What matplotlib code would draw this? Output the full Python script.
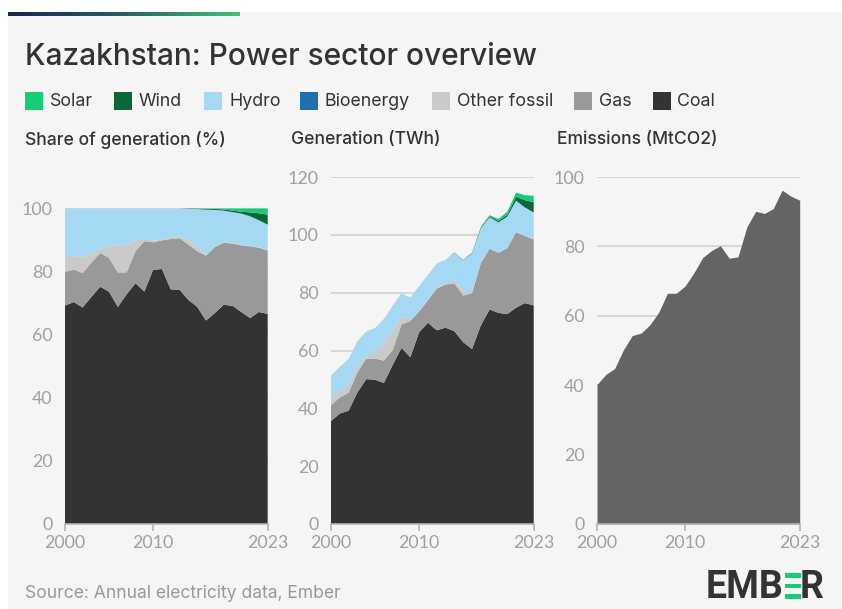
import numpy as np
import matplotlib
matplotlib.use("Agg")
import matplotlib.pyplot as plt
from matplotlib.patches import Rectangle
from matplotlib.colors import LinearSegmentedColormap

# ---------------- data ----------------
years = list(range(2000, 2024))

coal = [35.6, 38.2, 39.2, 45.5, 50.1, 49.9, 48.8, 55.0, 60.9, 57.7, 66.3, 69.6,
        67.0, 67.9, 66.7, 62.9, 60.5, 68.7, 74.2, 73.0, 72.6, 74.8, 76.4, 75.6]
gas = [5.5, 5.6, 6.2, 6.9, 7.1, 7.3, 7.7, 5.2, 8.1, 12.5, 7.2, 7.8,
       14.4, 14.9, 16.5, 16.1, 19.3, 21.5, 21.0, 20.8, 22.8, 26.1, 23.2, 22.8]
other_fossil = [2.6, 2.3, 2.8, 1.9, 0.9, 2.5, 6.2, 6.7, 2.7, 0.7, 0.4, 0.3,
                0.5, 0.5, 1.1, 1.4, 0.2, 0.2, 0.2, 0.2, 0.2, 0.2, 0.2, 0.2]
bioenergy = [0.0] * 24
hydro = [7.7, 8.2, 8.9, 8.9, 8.5, 8.1, 8.2, 8.6, 8.1, 7.4, 8.4, 8.4,
         8.2, 8.1, 9.5, 10.8, 13.5, 11.9, 10.7, 10.3, 10.7, 10.7, 9.7, 9.1]
wind = [0, 0, 0, 0, 0, 0, 0, 0, 0, 0, 0, 0,
        0, 0, 0.1, 0.1, 0.2, 0.3, 0.4, 0.5, 0.6, 1.4, 2.5, 3.6]
solar = [0, 0, 0, 0, 0, 0, 0, 0, 0, 0, 0, 0,
         0, 0, 0.0, 0.05, 0.1, 0.15, 0.3, 0.7, 1.1, 1.4, 1.7, 2.2]
emissions = [40.2, 43.1, 44.8, 50.2, 54.3, 55.0, 57.4, 61.0, 66.5, 66.5, 68.6, 72.4,
             76.8, 78.8, 80.2, 76.6, 77.0, 85.6, 90.1, 89.5, 90.9, 96.2, 94.5, 93.3]

series_names = ["Solar", "Wind", "Hydro", "Bioenergy", "Other fossil", "Gas", "Coal"]
series_colors = ["#13ce74", "#0b6638", "#a4d8f3", "#1e6fae", "#cacaca", "#999999", "#333333"]
x_ticks = [2000, 2010, 2023]

# ---------------- figure ----------------
W, H = 842, 609
fig = plt.figure(figsize=(W / 100, H / 100), dpi=100)
fig.patch.set_facecolor("white")
FONT = ["Inter", "DejaVu Sans"]


def fx(x):
    return x / W


def fy(y):
    return 1 - y / H


fig.add_artist(Rectangle((fx(8), 0), 1 - fx(8), fy(12), transform=fig.transFigure,
                         facecolor="#f5f5f5", edgecolor="none", zorder=-10))

# gradient bar
axg = fig.add_axes([fx(8), fy(16.5), fx(240) - fx(8), 4.5 / H])
cmap = LinearSegmentedColormap.from_list("g", ["#1b2550", "#2b5f64", "#45c078"])
axg.imshow(np.linspace(0, 1, 256)[None, :], aspect="auto", cmap=cmap)
axg.axis("off")

# title
fig.text(fx(25), fy(65), "Kazakhstan: Power sector overview", fontsize=21.5,
         color="#333333", family=FONT, weight="medium", va="baseline", ha="left")

# legend
sq_left = [25.2, 113.9, 204, 299.7, 431.8, 573.6, 652.5]
for name, col, xl in zip(series_names, series_colors, sq_left):
    fig.add_artist(Rectangle((fx(xl), fy(110)), 18 / W, 18 / H, transform=fig.transFigure,
                             facecolor=col, edgecolor="none"))
    fig.text(fx(xl + 25), fy(101.5), name, fontsize=12.8, color="#333333", family=FONT,
             va="center", ha="left")

# subtitles
subs = [(25, "Share of generation (%)"), (291, "Generation (TWh)"), (557, "Emissions (MtCO2)")]
for xs, t in subs:
    fig.text(fx(xs), fy(140), t, fontsize=12.6, color="#333333", family=FONT,
             weight="medium", va="center", ha="left")

# axes
bottom = fy(524)
height = (524 - 177) / H
width = (267.7 - 65) / W
lefts = [65, 331, 597]
axes = [fig.add_axes([fx(l), bottom, width, height]) for l in lefts]

tot = np.array(coal) + np.array(gas) + np.array(other_fossil) + np.array(bioenergy) + \
    np.array(hydro) + np.array(wind) + np.array(solar)
stack = [coal, gas, other_fossil, bioenergy, hydro, wind, solar]
stack_colors = series_colors[::-1]

# panel 1: shares
ax = axes[0]
shares = [np.array(s) / tot * 100 for s in stack]
ax.stackplot(years, *shares, colors=stack_colors, linewidth=0, zorder=2)
ax.set_ylim(0, 110)
ax.set_yticks([0, 20, 40, 60, 80, 100])

# panel 2: generation
ax = axes[1]
ax.stackplot(years, *stack, colors=stack_colors, linewidth=0, zorder=2)
ax.set_ylim(0, 120)
ax.set_yticks([0, 20, 40, 60, 80, 100, 120])

# panel 3: emissions
ax = axes[2]
ax.fill_between(years, 0, emissions, color="#646464", linewidth=0, zorder=2)
ax.set_ylim(0, 100)
ax.set_yticks([0, 20, 40, 60, 80, 100])

for ax in axes:
    ax.set_facecolor("none")
    ax.set_xlim(2000, 2023)
    ax.set_xticks(x_ticks)
    ax.set_xticklabels([str(t) for t in x_ticks])
    for s in ["top", "right", "left"]:
        ax.spines[s].set_visible(False)
    ax.spines["bottom"].set_color("#b5b5b5")
    ax.spines["bottom"].set_linewidth(1.2)
    ax.spines["bottom"].set_zorder(3)
    ax.tick_params(axis="y", length=0, pad=9, labelcolor="#a0a0a0", labelsize=12.8)
    ax.tick_params(axis="x", length=5, width=1.2, color="#b5b5b5", pad=3,
                   labelcolor="#a0a0a0", labelsize=12.8)
    for lab in ax.get_xticklabels() + ax.get_yticklabels():
        lab.set_family(["Lato", "DejaVu Sans"])
    ax.yaxis.grid(True, color="#d2d2d2", linewidth=1.2, zorder=0)
    ax.set_axisbelow(True)

# source
fig.text(fx(25), fy(593), "Source: Annual electricity data, Ember", fontsize=12.6,
         color="#999999", family=FONT, va="center", ha="left")

# EMBER logo
fig.text(fx(784), fy(598), "EMB", fontsize=27, color="#333333", weight="bold",
         family=["Roboto", "DejaVu Sans"], va="baseline", ha="right")
fig.text(fx(824), fy(598), "R", fontsize=27, color="#333333", weight="bold",
         family=["Roboto", "DejaVu Sans"], va="baseline", ha="right")
for yt in [573, 583.5, 594]:
    fig.add_artist(Rectangle((fx(785), fy(yt + 4.5)), 16 / W, 4.5 / H,
                             transform=fig.transFigure, facecolor="#13ce74", edgecolor="none"))

fig.savefig("out.png", dpi=100, facecolor=fig.get_facecolor())
